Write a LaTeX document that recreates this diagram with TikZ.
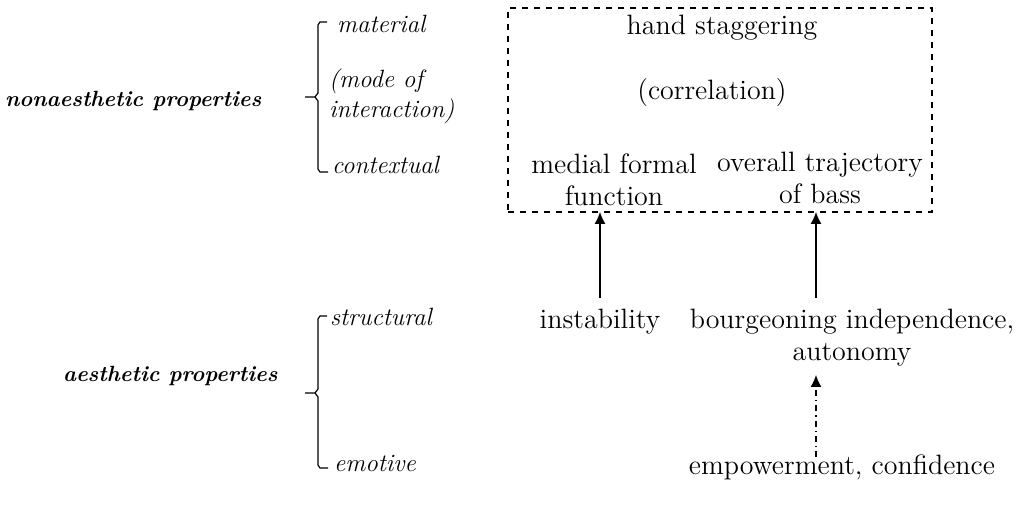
\documentclass[tikz,border=0pt]{standalone}
\usepackage{tikz}
\usetikzlibrary{calc,arrows.meta}

\begin{document}
\begin{tikzpicture}[x=0.5pt,y=-0.5pt,line width=0.6pt]
    \tikzstyle{every node}=[inner sep=0pt,outer sep=0pt]
    \tikzstyle{arr}=[-{Latex[length=6pt,width=5.5pt]}]
    \tikzstyle{kind}=[font=\fontsize{11}{13}\selectfont\bfseries\itshape, anchor=west]
    \tikzstyle{sub}=[font=\fontsize{12.5}{15}\selectfont\itshape, anchor=west, align=left]
    \tikzstyle{item}=[font=\fontsize{14}{16}\selectfont, align=center]
    \tikzstyle{frame}=[draw, dashed, minimum width=212pt, minimum height=102pt]
    \useasboundingbox (0,0) rectangle (1024,518);

    % Left column: property kinds
    \node[kind] (NA) at (5,101) {nonaesthetic properties};
    \node[kind] (AE) at (63,376) {aesthetic properties};

    % Sub-categories
    \node[sub] (S-1) at (337,24) {material};
    \node[sub] (S-2) at (329,96) {(mode of\\interaction)};
    \node[sub] (S-3) at (332,165) {contextual};
    \node[sub] (S-4) at (330,317) {structural};
    \node[sub] (S-5) at (334,464) {emotive};

    % Brackets
    \draw (327,22) -- (320,22) -- (318,25) -- (318,93) -- (315,97) -- (305,97);
    \draw (315,97) -- (318,101) -- (318,169) -- (320,172) -- (328,172);
    \draw (327,316) -- (320,316) -- (318,319) -- (318,389) -- (315,393) -- (305,393);
    \draw (315,393) -- (318,397) -- (318,465) -- (320,468) -- (328,468);

    % Dashed box
    \node[frame] (box) at (720,110) {};
    \node[item] (hand) at (722,28) {hand staggering};
    \node[item] (corr) at (712,93) {(correlation)};
    \node[item] (medial) at (614,180) {medial formal\\function};
    \node[item] (traj) at (820,178) {overall trajectory\\of bass};

    % Lower items
    \node[item] (inst) at (600,322) {instability};
    \node[item, anchor=north] (bourg) at (852,309) {bourgeoning independence,\\autonomy};
    \node[item] (emp) at (842,467) {empowerment, confidence};

    % Arrows
    \coordinate (A-1) at (600,298);
    \coordinate (A-2) at (816,298);
    \coordinate (A-3) at (816,457);
    \coordinate (A-4) at (816,375);
    \draw[arr] (A-1) -- (A-1 |- box.south);
    \draw[arr] (A-2) -- (A-2 |- box.south);
    \draw[arr, dash dot] (A-3) -- (A-4);
\end{tikzpicture}
\end{document}
